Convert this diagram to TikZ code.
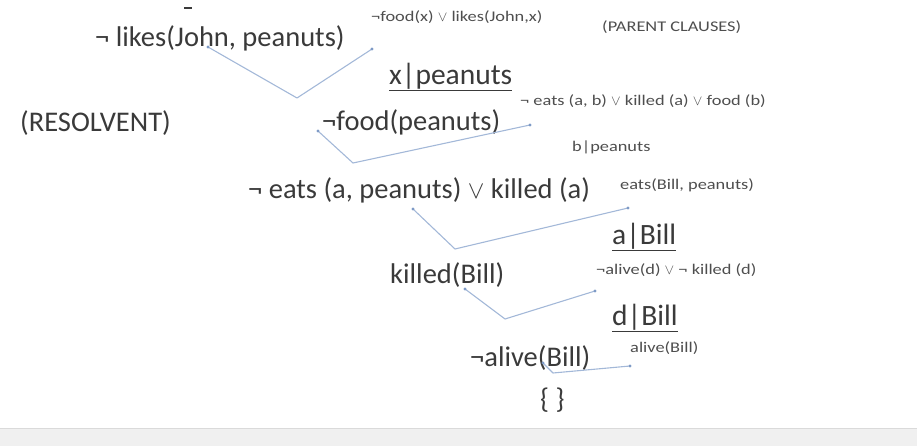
\documentclass[tikz,border=0pt]{standalone}
\usepackage{fontspec}
\setmainfont{Carlito}
\newfontfamily\widesans[FakeStretch=1.24]{Carlito}
\usetikzlibrary{positioning}
\definecolor{ink}{HTML}{3A3A3A}
\definecolor{inksoft}{HTML}{4E4E4E}
\definecolor{wire}{HTML}{A3B8D8}
\definecolor{wiredot}{HTML}{7E9AC6}
\definecolor{band}{HTML}{F0F0F0}
\tikzset{
  clause/.style={anchor=west,inner sep=0pt,text=ink,font=\fontsize{28.5}{32}\selectfont},
  parent/.style={anchor=west,inner sep=0pt,text=inksoft,font=\widesans\fontsize{14.8}{17}\selectfont},
  subst/.style={clause,font=\fontsize{29.5}{32}\selectfont},
  wire/.style={draw=wire,line width=1.1pt,line join=round},
  band/.style={fill=band,draw=none}
}

\begin{document}
\begin{tikzpicture}[x=1pt,y=-1pt]
  \useasboundingbox (0,0) rectangle (917,446);
  \fill[band] (0,428) rectangle (917,446);
  \draw[band!85!black!60!band] (0,428) -- (917,428);
  \draw[ink,line width=2pt] (184,8) -- (192,8);

  % resolvents (left) and parents (right)
  \node[clause] (likes) at (95,38) {¬ likes(John, peanuts)};
  \node[parent] (p1) at (371,17) {¬food(x) $\vee$ likes(John,x)};
  \node[parent] (pc) at (602,27) {(PARENT CLAUSES)};
  \node[subst] (s1) at (389,77) {\underline{x|peanuts}};
  \node[clause] (resolv) at (20,123) {(RESOLVENT)};
  \node[clause] (food) at (322,122) {¬food(peanuts)};
  \node[parent] (p2) at (520,101) {¬ eats (a, b) $\vee$ killed (a) $\vee$ food (b)};
  \node[parent] (s2) at (572,147) {b|peanuts};
  \node[clause] (eats) at (248,190) {¬ eats (a, peanuts) $\vee$ killed (a)};
  \node[parent] (p3) at (620,185) {eats(Bill, peanuts)};
  \node[subst] (s3) at (612,237) {\underline{a|Bill}};
  \node[clause] (killed) at (390,275) {killed(Bill)};
  \node[parent] (p4) at (596,270) {¬alive(d) $\vee$ ¬ killed (d)};
  \node[subst] (s4) at (612,318) {\underline{d|Bill}};
  \node[clause] (alive) at (470,358) {¬alive(Bill)};
  \node[parent] (p5) at (630,348) {alive(Bill)};
  \node[clause] (empty) at (540,400) {\{ \}};

  % connector ends
  \coordinate (a1) at (208,47);  \coordinate (v1) at (297,98);  \coordinate (b1) at (372,49);
  \coordinate (a2) at (318,131); \coordinate (v2) at (353,163); \coordinate (b2) at (530,125);
  \coordinate (a3) at (413,209); \coordinate (v3) at (455,249); \coordinate (b3) at (628,208);
  \coordinate (a4) at (465,289); \coordinate (v4) at (505,319); \coordinate (b4) at (595,291);
  \coordinate (a5) at (543,363); \coordinate (v5) at (553,373); \coordinate (b5) at (630,366);

  \foreach \i in {1,...,5} {
    \draw[wire] (a\i) -- (v\i) -- (b\i);
    \fill[wiredot] (a\i) circle[radius=1.7pt] (b\i) circle[radius=1.7pt];
  }
\end{tikzpicture}
\end{document}
